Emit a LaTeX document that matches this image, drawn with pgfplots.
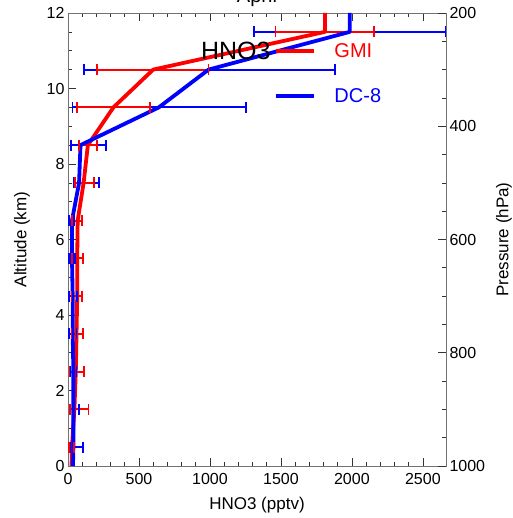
\documentclass[border=0pt]{standalone}
\usepackage{fontspec}
\setmainfont{Liberation Sans}
\usepackage{pgfplots}
\pgfplotsset{compat=1.18}
\usepackage{pgfplotstable}

% altitude (km), GMI, DC-8 profile lines
\pgfplotstableread{
alt gmi dc
0    25   35
0.5  28   38
1.5  45   38
2.5  55   38
3.5  60   33
4.5  65   33
5.5  65   28
6.5  68   28
7.5  110  78
8.5  140  88
9.5  320  640
10.5 600  990
11.5 1810 1985
12   1810 1985
}\lines

% GMI bar ends (x, altitude); nan rows break the bars apart
\pgfplotstableread{
x alt
5 0.5
45 0.5
nan nan
15 1.5
145 1.5
nan nan
10 2.5
112 2.5
nan nan
25 3.5
105 3.5
nan nan
25 4.5
98 4.5
nan nan
28 5.5
105 5.5
nan nan
30 6.5
100 6.5
nan nan
48 7.5
182 7.5
nan nan
78 8.5
205 8.5
nan nan
63 9.5
579 9.5
nan nan
207 10.5
990 10.5
nan nan
1462 11.5
2158 11.5
}\gmierr

% DC-8 bar ends
\pgfplotstableread{
x alt
14 0.5
108 0.5
nan nan
12 1.5
77 1.5
nan nan
15 2.5
60 2.5
nan nan
5 3.5
60 3.5
nan nan
7 4.5
61 4.5
nan nan
7 5.5
49 5.5
nan nan
7 6.5
45 6.5
nan nan
45 7.5
218 7.5
nan nan
20 8.5
265 8.5
nan nan
31 9.5
1254 9.5
nan nan
110 10.5
1883 10.5
nan nan
1308 11.5
2661 11.5
}\dcerr

\definecolor{axgray}{gray}{0.45}

\begin{document}
\begin{tikzpicture}
\pgfplotsset{
  every axis/.append style={
    width=378pt, height=453pt, scale only axis,
    tick label style={font=\fontsize{16}{16}\selectfont},
    /pgf/number format/assume math mode=true,
    /pgf/number format/1000 sep={},
    major tick length=8pt, minor tick length=4pt,
    tick style={black!80, line width=0.7pt},
    axis line style={axgray, line width=0.9pt},
    label style={font=\fontsize{17}{17}\selectfont},
  }
}
\begin{axis}[
  name=main, at={(0,0)},
  xmin=0, xmax=2663, ymin=0, ymax=12,
  xtick={0,500,...,2500}, minor x tick num=4,
  ytick={0,2,...,12}, minor y tick num=3,
  ytick pos=left, xtick pos=both,
  xticklabel style={yshift=-4pt},
  xlabel={HNO3 (pptv)}, ylabel={Altitude (km)},
  xlabel style={at={([yshift=-39pt]axis description cs:0.5,0)}, anchor=center},
  ylabel style={at={([xshift=-46pt]axis description cs:0,0.5)}, anchor=center},
  clip=false, unbounded coords=jump,
]
\addplot[blue, line width=1.8pt, mark=|, mark size=5.5pt, mark options={solid, line width=1.8pt}, forget plot]
  table[x=x, y=alt] {\dcerr};
\addplot[red, line width=1.8pt, mark=|, mark size=5.5pt, mark options={solid, line width=1.8pt}, forget plot]
  table[x=x, y=alt] {\gmierr};
\addplot[red, line width=3.8pt, line join=round] table[x=gmi, y=alt] {\lines};
\addplot[blue, line width=3.8pt, line join=round] table[x=dc, y=alt] {\lines};

\draw[red, line width=3.8pt] (axis cs:1468,11.0) -- (axis cs:1735,11.0);
\draw[blue, line width=3.8pt] (axis cs:1468,9.8) -- (axis cs:1735,9.8);
\node[anchor=west, red, font=\fontsize{20}{20}\selectfont, inner sep=0pt] at (axis cs:1876,11.0) {GMI};
\node[anchor=west, blue, font=\fontsize{20}{20}\selectfont, inner sep=0pt] at (axis cs:1876,9.8) {DC-8};
\node[anchor=east, black, font=\fontsize{25}{25}\selectfont, inner sep=0pt] at (axis cs:1428,11.0) {HNO3};
\node[anchor=base, font=\fontsize{20}{20}\selectfont] at ([yshift=10pt]rel axis cs:0.5,1) {April};
\end{axis}

\begin{axis}[
  at={(0,0)},
  xmin=0, xmax=2663, ymin=200, ymax=1000, y dir=reverse,
  axis x line=none, axis y line*=right,
  ytick={200,400,...,1000}, minor y tick num=3,
  ylabel={Pressure (hPa)},
  ylabel style={at={([xshift=58pt]axis description cs:1,0.5)}, anchor=center},
]
\addplot[draw=none] coordinates {(0,500)};
\end{axis}

\pgfresetboundingbox
\path[use as bounding box] (-68pt,-52pt) rectangle (444pt,466pt);
\end{tikzpicture}
\end{document}
